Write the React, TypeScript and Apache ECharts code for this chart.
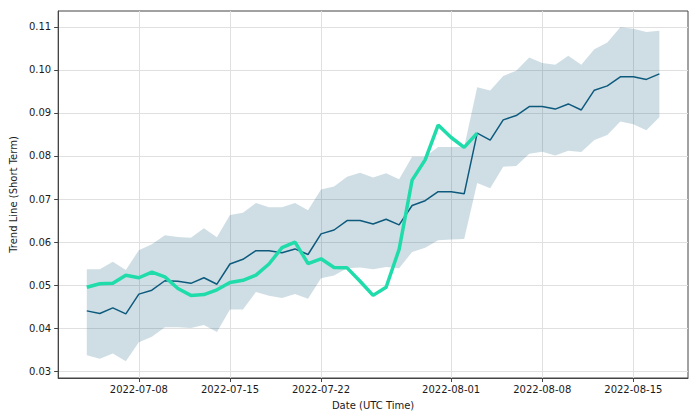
import React, { useEffect, useRef } from "react";
import * as echarts from "echarts";

const dates = [
  "2022-07-04","2022-07-05","2022-07-06","2022-07-07","2022-07-08","2022-07-09","2022-07-10","2022-07-11",
  "2022-07-12","2022-07-13","2022-07-14","2022-07-15","2022-07-16","2022-07-17","2022-07-18","2022-07-19",
  "2022-07-20","2022-07-21","2022-07-22","2022-07-23","2022-07-24","2022-07-25","2022-07-26","2022-07-27",
  "2022-07-28","2022-07-29","2022-07-30","2022-07-31","2022-08-01","2022-08-02","2022-08-03","2022-08-04",
  "2022-08-05","2022-08-06","2022-08-07","2022-08-08","2022-08-09","2022-08-10","2022-08-11","2022-08-12",
  "2022-08-13","2022-08-14","2022-08-15","2022-08-16","2022-08-17",
];

const trend = [
  0.0440, 0.0434, 0.0447, 0.0433, 0.0479, 0.0488, 0.0510, 0.0509, 0.0504, 0.0517,
  0.0502, 0.0549, 0.0560, 0.0580, 0.0580, 0.0575, 0.0584, 0.0571, 0.0619, 0.0628,
  0.0650, 0.0650, 0.0642, 0.0653, 0.0640, 0.0685, 0.0696, 0.0717, 0.0717, 0.0712,
  0.0853, 0.0837, 0.0884, 0.0894, 0.0915, 0.0915, 0.0909, 0.0921, 0.0907, 0.0953,
  0.0963, 0.0984, 0.0984, 0.0978, 0.0991,
];

const upper = [
  0.0537, 0.0537, 0.0554, 0.0535, 0.0581, 0.0595, 0.0616, 0.0612, 0.0610, 0.0632,
  0.0611, 0.0663, 0.0668, 0.0691, 0.0681, 0.0681, 0.0691, 0.0674, 0.0722, 0.0729,
  0.0752, 0.0761, 0.0750, 0.0760, 0.0746, 0.0798, 0.0798, 0.0821, 0.0821, 0.0821,
  0.0960, 0.0952, 0.0986, 0.0998, 0.1029, 0.1016, 0.1012, 0.1033, 0.1012, 0.1048,
  0.1064, 0.1099, 0.1096, 0.1088, 0.1091,
];

const lower = [
  0.0337, 0.0329, 0.0341, 0.0323, 0.0367, 0.0380, 0.0402, 0.0402, 0.0400, 0.0407,
  0.0391, 0.0443, 0.0443, 0.0484, 0.0475, 0.0470, 0.0479, 0.0468, 0.0516, 0.0522,
  0.0539, 0.0541, 0.0537, 0.0542, 0.0539, 0.0577, 0.0587, 0.0604, 0.0606, 0.0607,
  0.0737, 0.0725, 0.0775, 0.0777, 0.0805, 0.0810, 0.0801, 0.0812, 0.0809, 0.0837,
  0.0849, 0.0880, 0.0874, 0.0860, 0.0890,
];

const price = [
  0.0495, 0.0503, 0.0504, 0.0523, 0.0517, 0.0530, 0.0519, 0.0492, 0.0476, 0.0478,
  0.0489, 0.0506, 0.0511, 0.0523, 0.0549, 0.0587, 0.0600, 0.0550, 0.0561, 0.0541,
  0.0540, 0.0509, 0.0476, 0.0495, 0.0583, 0.0744, 0.0791, 0.0872, 0.0843, 0.0820,
  0.0853,
];

const xTickLabels = ["2022-07-08", "2022-07-15", "2022-07-22", "2022-08-01", "2022-08-08", "2022-08-15"];
const yTickValues = [0.03, 0.04, 0.05, 0.06, 0.07, 0.08, 0.09, 0.10, 0.11];

const DAY = 86400000;
const dayNum = (s: string) => {
  const [y, m, d] = s.split("-").map(Number);
  return Date.UTC(y, m - 1, d) / DAY;
};
const pad = (n: number) => (n < 10 ? "0" + n : "" + n);
const fmt = (v: number) => {
  const d = new Date(Math.round(v) * DAY);
  return d.getUTCFullYear() + "-" + pad(d.getUTCMonth() + 1) + "-" + pad(d.getUTCDate());
};

export default function App() {
  const ref = useRef<HTMLDivElement>(null);
  useEffect(() => {
    if (!ref.current) return;
    const chart = echarts.init(ref.current, undefined, { renderer: "svg" });
    const font = "DejaVu Sans";
    const xs = dates.map(dayNum);
    const span = xs[xs.length - 1] - xs[0];
    const xMin = xs[0] - span * 0.05;
    const xMax = xs[xs.length - 1] + span * 0.05;
    const xTicks = xTickLabels.map(dayNum);
    const bandData = xs.map((x, i) => [x, lower[i], upper[i]]);
    chart.setOption({
      animation: false,
      grid: {
        left: 53,
        top: 11,
        right: 11,
        bottom: 41,
        show: true,
        borderColor: "#444",
        borderWidth: 1,
        backgroundColor: "transparent",
      },
      xAxis: {
        type: "value",
        min: xMin,
        max: xMax,
        name: "Date (UTC Time)",
        nameLocation: "middle",
        nameGap: 22,
        nameTextStyle: { fontFamily: font, fontSize: 10, color: "#1a1a1a" },
        axisLine: { show: true, lineStyle: { color: "#444", width: 1 } },
        axisTick: { show: true, customValues: xTicks, length: 4, lineStyle: { color: "#444" } },
        axisLabel: {
          customValues: xTicks,
          formatter: (v: number) => fmt(v),
          fontFamily: font,
          fontSize: 10,
          color: "#1a1a1a",
          margin: 6,
        },
        splitLine: { show: true, lineStyle: { color: "#e0e0e0", width: 1 } },
      },
      yAxis: {
        type: "value",
        min: 0.0284,
        max: 0.1137,
        name: "Trend Line (Short Term)",
        nameLocation: "middle",
        nameGap: 38,
        nameRotate: 90,
        nameTextStyle: { fontFamily: font, fontSize: 10, color: "#1a1a1a" },
        axisLine: { show: true, lineStyle: { color: "#444", width: 1 } },
        axisTick: { show: true, customValues: yTickValues, length: 4, lineStyle: { color: "#444" } },
        axisLabel: {
          customValues: yTickValues,
          formatter: (v: number) => v.toFixed(2),
          fontFamily: font,
          fontSize: 10,
          color: "#1a1a1a",
          margin: 7,
        },
        splitLine: { show: true, lineStyle: { color: "#e0e0e0", width: 1 } },
      },
      series: [
        {
          type: "custom",
          data: bandData,
          silent: true,
          clip: true,
          z: 1,
          encode: { x: 0, y: [1, 2] },
          renderItem: (params: any, api: any) => {
            if (params.dataIndex !== 0) return null;
            const top = bandData.map((d) => api.coord([d[0], d[2]]));
            const bot = bandData.map((d) => api.coord([d[0], d[1]])).reverse();
            return {
              type: "polygon",
              shape: { points: top.concat(bot) },
              style: { fill: "rgba(13,90,125,0.2)", stroke: "none" },
            };
          },
        },
        {
          type: "line",
          data: xs.map((x, i) => [x, trend[i]]),
          symbol: "none",
          lineStyle: { color: "#0d5a7d", width: 1.5 },
          z: 3,
        },
        {
          type: "line",
          data: price.map((v, i) => [xs[i], v]),
          symbol: "none",
          lineStyle: { color: "#1fdcaa", width: 3.5 },
          z: 4,
        },
      ],
    });
    return () => chart.dispose();
  }, []);
  return (
    <div
      ref={ref}
      style={{ position: "fixed", left: 0, top: 0, width: 699, height: 419, background: "#fff" }}
    />
  );
}
